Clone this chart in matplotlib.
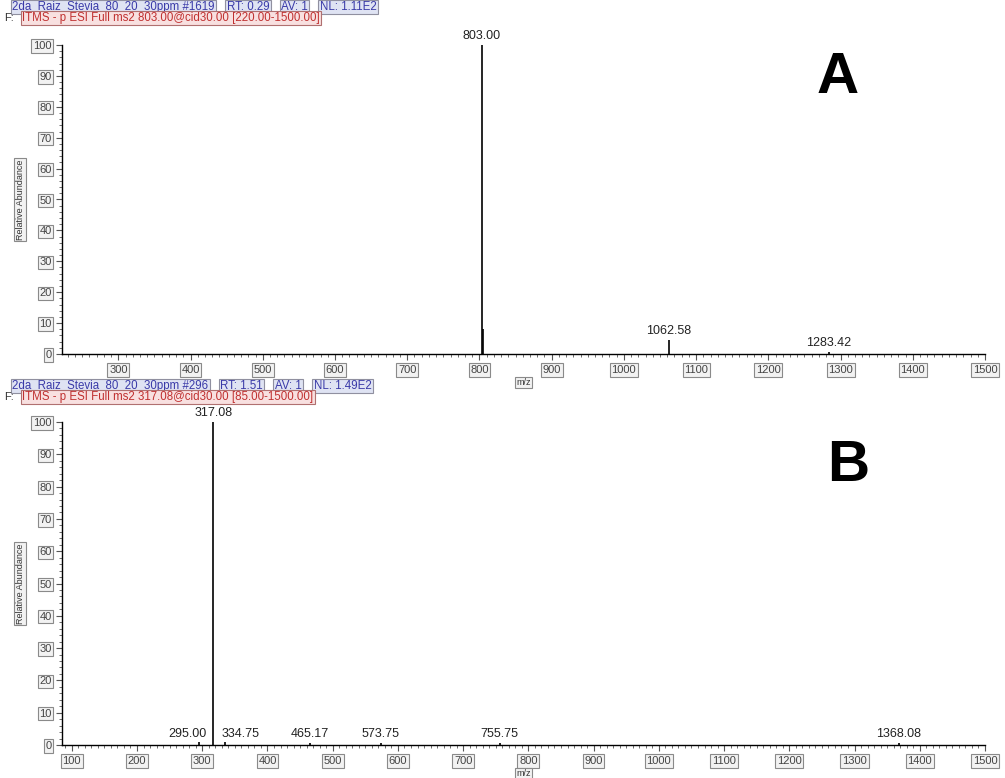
import numpy as np
import matplotlib.pyplot as plt
from matplotlib.ticker import MultipleLocator

plt.rcParams['font.family'] = ['Liberation Sans', 'DejaVu Sans']

# spectrum A (MS2 of 803)
mz_a = [803.00, 804.6, 1062.58, 1283.42]
int_a = [100, 8, 4.5, 0.8]
lab_a = ['803.00', None, '1062.58', '1283.42']
head_a = ['2da_Raiz_Stevia_80_20_30ppm #1619', 'RT: 0.29', 'AV: 1', 'NL: 1.11E2']
filt_a = 'ITMS - p ESI Full ms2 803.00@cid30.00 [220.00-1500.00]'

# spectrum B (MS2 of 317)
mz_b = [295.00, 317.08, 334.75, 465.17, 573.75, 755.75, 1368.08]
int_b = [0.8, 100, 0.8, 0.6, 0.6, 0.6, 0.6]
lab_b = ['295.00', '317.08', '334.75', '465.17', '573.75', '755.75', '1368.08']
head_b = ['2da_Raiz_Stevia_80_20_30ppm #296', 'RT: 1.51', 'AV: 1', 'NL: 1.49E2']
filt_b = 'ITMS - p ESI Full ms2 317.08@cid30.00 [85.00-1500.00]'

W, H = 1005, 778
fig = plt.figure(figsize=(W / 100, H / 100), dpi=100)

box = dict(boxstyle='square,pad=0.15', fc='#f2f2f2', ec='#8a8a8a', lw=0.8)

# label nudges (points) so crowded peak labels don't collide
nudge = {'295.00': -8, '334.75': 11}


def draw(rect, mz, inten, labels, xlim, xticks, letter, letter_xy, head, filt, top_px):
    ax = fig.add_axes(rect)
    ax.vlines(mz, 0, inten, color='black', lw=1.2)
    ax.set_xlim(*xlim)
    ax.set_ylim(0, 100)
    ax.set_xticks(xticks)
    ax.xaxis.set_minor_locator(MultipleLocator(10))
    ax.set_yticks(range(0, 101, 10))
    ax.yaxis.set_minor_locator(MultipleLocator(2))
    for s in ['top', 'right']:
        ax.spines[s].set_visible(False)
    ax.spines['left'].set_linewidth(1.0)
    ax.spines['bottom'].set_linewidth(1.0)
    ax.tick_params(which='major', length=4, width=0.8, colors='#555555',
                   labelsize=8, labelcolor='#444444')
    ax.tick_params(which='minor', length=2, width=0.6, colors='#555555')
    ax.tick_params(axis='x', pad=4)
    for t in ax.get_xticklabels() + ax.get_yticklabels():
        t.set_bbox(box)
    for m, v, l in zip(mz, inten, labels):
        if l:
            ax.annotate(l, (m, v), xytext=(nudge.get(l, 0), 2),
                        textcoords='offset points',
                        ha='center', va='bottom', fontsize=9, color='#222222',
                        annotation_clip=False)
    ax.set_ylabel('Relative Abundance', fontsize=6.5, color='#333333',
                  bbox=box, labelpad=6)
    ax.set_xlabel('m/z', fontsize=6.5, color='#333333', bbox=box, labelpad=2)
    ax.text(letter_xy[0], letter_xy[1], letter, transform=ax.transAxes,
            fontsize=42, fontweight='bold', ha='center', va='center')
    # header lines
    x = 12 / W
    y1 = 1 - (top_px + 7) / H
    hb = dict(boxstyle='square,pad=0.12', fc='#dfe3f3', ec='#9090a0', lw=0.8)
    for h in head:
        t = fig.text(x, y1, h, fontsize=8.3, color='#3a3aa8', va='center',
                     ha='left', bbox=hb)
        fig.canvas.draw()
        bb = t.get_window_extent()
        x = (bb.x1 + 12) / W
    fig.text(4 / W, 1 - (top_px + 18) / H, 'F:', fontsize=8, color='#333333',
             va='center', ha='left')
    fig.text(22 / W, 1 - (top_px + 18) / H, filt, fontsize=8.3, color='#c03030',
             va='center', ha='left',
             bbox=dict(boxstyle='square,pad=0.12', fc='#f8e0e0', ec='#b07070', lw=0.8))
    return ax


draw([62 / W, 1 - 354 / H, (985 - 62) / W, (354 - 45) / H],
     mz_a, int_a, lab_a, (222, 1500), range(300, 1501, 100), 'A', (0.84, 0.893),
     head_a, filt_a, 0)
draw([62 / W, 1 - 745 / H, (985 - 62) / W, (745 - 422) / H],
     mz_b, int_b, lab_b, (85, 1500), range(100, 1501, 100), 'B', (0.852, 0.865),
     head_b, filt_b, 379)

fig.savefig('out.png', dpi=100)
